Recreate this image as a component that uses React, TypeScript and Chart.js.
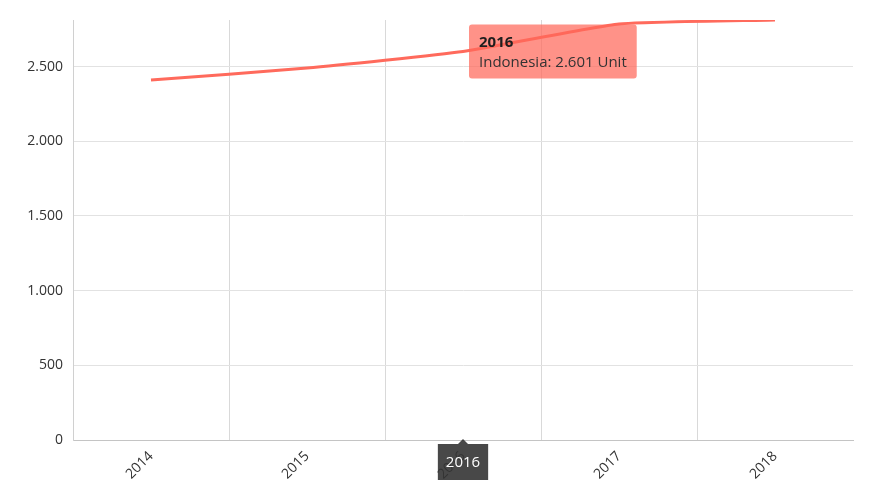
import React, { useEffect, useRef } from "react";
import { Chart, registerables } from "chart.js";

Chart.register(...registerables);

const categories = ["2014", "2015", "2016", "2017", "2018"];
const seriesName = "Indonesia";
const unit = "Unit";
const values = [2410, 2490, 2601, 2785, 2812];
const yTicks = [0, 500, 1000, 1500, 2000, 2500];
const highlightIndex = 2;

const FONT = "'Open Sans', 'Noto Sans', sans-serif";

function fmt(n: number): string {
  return String(n).replace(/\B(?=(\d{3})+(?!\d))/g, ".");
}

const overlayPlugin = {
  id: "overlay",
  afterDraw(chart: any) {
    const ctx = chart.ctx as CanvasRenderingContext2D;
    const meta = chart.getDatasetMeta(0);
    const pt = meta.data[highlightIndex];
    if (!pt) return;
    const px = pt.x;
    const py = pt.y;

    // tooltip
    const title = categories[highlightIndex];
    const body = `${seriesName}: ${fmt(values[highlightIndex])} ${unit}`;
    ctx.save();
    ctx.font = `bold 15px ${FONT}`;
    const tw = ctx.measureText(title).width;
    ctx.font = `15px ${FONT}`;
    const bw = ctx.measureText(body).width;
    const w = Math.max(tw, bw) + 20;
    const h = 54;
    const bx = px + 6;
    const by = py - 27;
    ctx.fillStyle = "rgba(255, 104, 90, 0.72)";
    ctx.beginPath();
    (ctx as any).roundRect(bx, by, w, h, 3);
    ctx.fill();
    ctx.fillStyle = "#1e1e1e";
    ctx.textAlign = "left";
    ctx.textBaseline = "alphabetic";
    ctx.font = `bold 15px ${FONT}`;
    ctx.fillText(title, bx + 10, by + 22);
    ctx.fillStyle = "#333333";
    ctx.font = `15px ${FONT}`;
    ctx.fillText(body, bx + 10, by + 42);

    // cursor label on x axis
    const xs = chart.scales.x;
    const cx = xs.getPixelForValue(highlightIndex);
    const top = chart.chartArea.bottom + 4;
    ctx.font = `15px ${FONT}`;
    const lw = ctx.measureText(title).width + 16;
    const lh = 36;
    ctx.fillStyle = "rgba(52, 52, 52, 0.9)";
    ctx.beginPath();
    ctx.moveTo(cx - 5, top);
    ctx.lineTo(cx, top - 5);
    ctx.lineTo(cx + 5, top);
    ctx.closePath();
    ctx.fill();
    ctx.fillRect(cx - lw / 2, top, lw, lh);
    ctx.fillStyle = "#ffffff";
    ctx.textAlign = "center";
    ctx.textBaseline = "middle";
    ctx.fillText(title, cx, top + lh / 2 + 1);
    ctx.restore();
  },
};

export default function App() {
  const ref = useRef<HTMLCanvasElement | null>(null);

  useEffect(() => {
    if (!ref.current) return;
    const chart = new Chart(ref.current, {
      type: "line",
      data: {
        labels: categories,
        datasets: [
          {
            label: seriesName,
            data: values,
            borderColor: "#ff6a5c",
            backgroundColor: "#ff6a5c",
            borderWidth: 3,
            pointRadius: 0,
            pointHoverRadius: 0,
            tension: 0.15,
            capBezierPoints: false,
            fill: false,
          },
        ],
      },
      options: {
        animation: false,
        responsive: false,
        devicePixelRatio: 1,
        events: [],
        layout: { padding: { top: 20, right: 20, left: 0, bottom: 0 } },
        plugins: {
          legend: { display: false },
          tooltip: { enabled: false },
        },
        scales: {
          x: {
            type: "category",
            offset: true,
            grid: {
              offset: true,
              drawTicks: false,
              color: (c: any) => (c.type === "tick" ? "#d9d9d9" : "rgba(0,0,0,0)"),
            },
            border: { color: "#c4c4c4" },
            ticks: {
              minRotation: 45,
              maxRotation: 45,
              padding: 8,
              color: "#333333",
              font: { family: FONT, size: 14 },
            },
            afterFit: (s: any) => {
              s.height = 60;
            },
          },
          y: {
            min: 0,
            max: Math.max(...values),
            afterBuildTicks: (s: any) => {
              s.ticks = yTicks.map((v) => ({ value: v }));
            },
            grid: { color: "#e2e2e2", drawTicks: false },
            border: { color: "#d0d0d0" },
            ticks: {
              padding: 10,
              color: "#333333",
              font: { family: FONT, size: 14 },
              callback: (v: any) => fmt(Number(v)),
            },
            afterFit: (s: any) => {
              s.width = 73;
            },
          },
        },
      },
      plugins: [overlayPlugin],
    });
    return () => chart.destroy();
  }, []);

  return (
    <div style={{ position: "absolute", left: 0, top: 0, width: 873, height: 500, background: "#fff" }}>
      <canvas ref={ref} width={873} height={500} style={{ display: "block" }} />
    </div>
  );
}
